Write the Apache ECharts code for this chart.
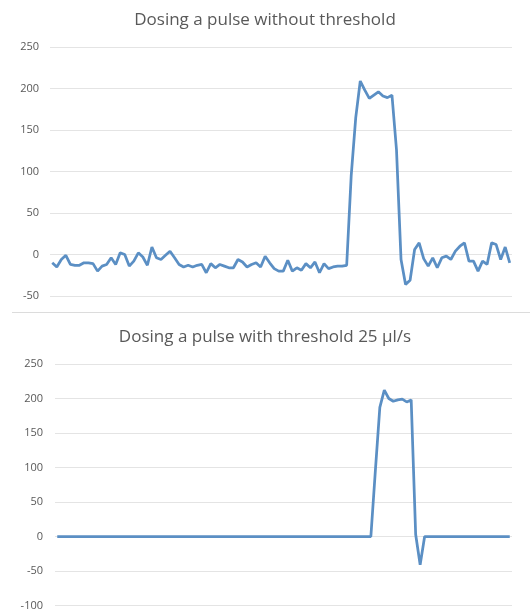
<!DOCTYPE html>
<html>
<head>
<meta charset="utf-8">
<script src="https://cdn.jsdelivr.net/npm/echarts@6/dist/echarts.min.js"></script>
<style>
html,body{margin:0;padding:0;background:#fff;}
#chart{width:530px;height:611px;}
</style>
</head>
<body>
<div id="chart"></div>
<script>
var titleTop = 'Dosing a pulse without threshold';
var titleBottom = 'Dosing a pulse with threshold 25 \u00b5l/s';

var samples = Array.from({length: 102}, function (_, i) { return String(i + 1); });

var flowWithout = [
  -10, -15, -6, -1, -12, -13, -13, -10, -10, -11, -20, -14, -12, -4, -12, 2, 0, -14, -8, 2,
  -3, -13, 9, -4, -6, -1, 4, -4, -12, -15, -13, -15, -13, -12, -22, -11, -16, -12, -14, -16,
  -16, -6, -9, -15, -12, -10, -15, -2, -10, -17, -20, -20, -7, -20, -16, -19, -11, -16, -9, -22,
  -11, -17, -15, -14, -14, -13,
  95, 165, 209, 198, 188, 192, 196, 191, 189, 192, 126, -6,
  -36, -31, 6, 14, -5, -14, -4, -16, -4, -2, -6, 4, 10, 14, -8, -8, -20, -8, -12, 14,
  12, -6, 9, -10
];

var flowWith = [
  0, 0, 0, 0, 0, 0, 0, 0, 0, 0, 0, 0, 0, 0, 0, 0, 0, 0, 0, 0,
  0, 0, 0, 0, 0, 0, 0, 0, 0, 0, 0, 0, 0, 0, 0, 0, 0, 0, 0, 0,
  0, 0, 0, 0, 0, 0, 0, 0, 0, 0, 0, 0, 0, 0, 0, 0, 0, 0, 0, 0,
  0, 0, 0, 0, 0, 0, 0, 0, 0, 0, 0,
  95, 187, 212, 200, 196, 198, 199, 195, 198, 3, -41,
  0, 0, 0, 0, 0, 0, 0, 0, 0, 0, 0, 0, 0, 0, 0, 0, 0, 0, 0, 0
];

var yTopMin = -50, yTopMax = 250;
var yBotMin = -100, yBotMax = 250;
var yStep = 50;

var FONT = '"Open Sans", sans-serif';
var TEXT = '#595959';
var GRID = '#e4e4e4';
var LINE = '#5b8fc4';

var chart = echarts.init(document.getElementById('chart'), null, {renderer: 'canvas'});

function yAx(idx, min, max, margin) {
  return {
    type: 'value', gridIndex: idx, min: min, max: max, interval: yStep,
    axisLine: {show: false}, axisTick: {show: false},
    axisLabel: {color: TEXT, fontSize: 11, fontFamily: FONT, margin: margin},
    splitLine: {lineStyle: {color: GRID, width: 1}}
  };
}
function xAx(idx) {
  return {
    type: 'category', gridIndex: idx, data: samples, boundaryGap: true,
    axisLine: {show: false}, axisTick: {show: false}, axisLabel: {show: false},
    splitLine: {show: false}
  };
}

chart.setOption({
  animation: false,
  backgroundColor: '#ffffff',
  title: [
    {text: titleTop, left: 'center', top: 7,
     textStyle: {color: TEXT, fontSize: 17, fontWeight: 'normal', fontFamily: FONT}},
    {text: titleBottom, left: 'center', top: 324,
     textStyle: {color: TEXT, fontSize: 17, fontWeight: 'normal', fontFamily: FONT}}
  ],
  grid: [
    {left: 50, right: 18, top: 47, height: 249},
    {left: 55, right: 18, top: 364, height: 243}
  ],
  xAxis: [xAx(0), xAx(1)],
  yAxis: [yAx(0, yTopMin, yTopMax, 11), yAx(1, yBotMin, yBotMax, 12)],
  graphic: [
    {type: 'line', shape: {x1: 12, y1: 312.5, x2: 530, y2: 312.5},
     style: {stroke: '#dcdcdc', lineWidth: 1}}
  ],
  series: [
    {type: 'line', xAxisIndex: 0, yAxisIndex: 0, data: flowWithout,
     showSymbol: false, lineStyle: {color: LINE, width: 2.75}, itemStyle: {color: LINE}},
    {type: 'line', xAxisIndex: 1, yAxisIndex: 1, data: flowWith,
     showSymbol: false, lineStyle: {color: LINE, width: 2.75}, itemStyle: {color: LINE}}
  ]
});
</script>
</body>
</html>
